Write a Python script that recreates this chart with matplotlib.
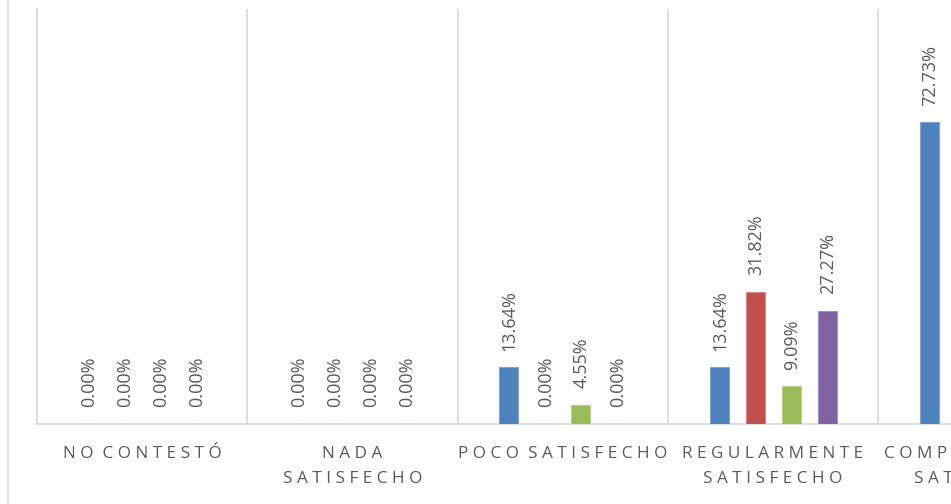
import matplotlib
matplotlib.use("Agg")
import matplotlib.pyplot as plt
from matplotlib.lines import Line2D
import numpy as np

plt.rcParams['font.family'] = ['Open Sans', 'DejaVu Sans']

categories = ["NO CONTESTÓ", "NADA\nSATISFECHO", "POCO SATISFECHO",
              "REGULARMENTE\nSATISFECHO", "COMPLETAMENTE\nSATISFECHO"]
serie1 = [0.00, 0.00, 13.64, 13.64, 72.73]
serie2 = [0.00, 0.00, 0.00, 31.82, 68.18]
serie3 = [0.00, 0.00, 4.55, 9.09, 86.36]
serie4 = [0.00, 0.00, 0.00, 27.27, 72.73]
series = [serie1, serie2, serie3, serie4]
colors = ["#4F81BD", "#C0504D", "#9BBB59", "#8064A2"]
edges = ["#7FA3D1", "#D98583", "#B9D08A", "#A38FC0"]

W, H = 951, 504
fig = plt.figure(figsize=(W / 100, H / 100), dpi=100)
left_px, base_px, top_px, cat_w = 37, 424, 9, 210.3
ax = fig.add_axes([left_px / W, (H - base_px) / H, 5 * cat_w / W, (base_px - top_px) / H])

x = np.arange(len(categories))
bw = 19 / cat_w
step = 36 / cat_w
grid_c = "#D9D9D9"
txt_c = "#595959"

for i, (vals, c, ec) in enumerate(zip(series, colors, edges)):
    xs = x + (i - 1.5) * step
    ax.bar(xs, vals, width=bw, color=c, edgecolor=ec, linewidth=0.8, zorder=3)
    for xi, v in zip(xs, vals):
        ax.annotate(f"{v:.2f}%", (xi, v), xytext=(0.8, 12), textcoords="offset points",
                    rotation=90, ha="center", va="bottom", color=txt_c, fontsize=13,
                    annotation_clip=False)

def spaced(s):
    lines = []
    for line in s.split("\n"):
        lines.append("  ".join(" ".join(list(w)) for w in line.split(" ")))
    return "\n".join(lines)

ax.set_xlim(-0.5, len(categories) - 0.5)
ax.set_ylim(0, 100)
ax.set_xticks(x)
labels = ax.set_xticklabels([spaced(c) for c in categories], color=txt_c, fontsize=12.3)
for lab in labels:
    lab.set_linespacing(1.75)
ax.set_xticks(np.arange(len(categories) + 1) - 0.5, minor=True)
ax.tick_params(axis="x", which="both", length=0, pad=16)
ax.set_yticks([])
ax.grid(axis="x", which="minor", color=grid_c, linewidth=1.2, zorder=0)
ax.grid(axis="x", which="major", visible=False)
for s in ["top", "right"]:
    ax.spines[s].set_visible(False)
for s in ["left", "bottom"]:
    ax.spines[s].set_color(grid_c)
    ax.spines[s].set_linewidth(1.2)

fig.add_artist(Line2D([7.5 / W, 7.5 / W], [0, 1], color=grid_c, linewidth=1.2))

fig.savefig("out.png", dpi=100)
